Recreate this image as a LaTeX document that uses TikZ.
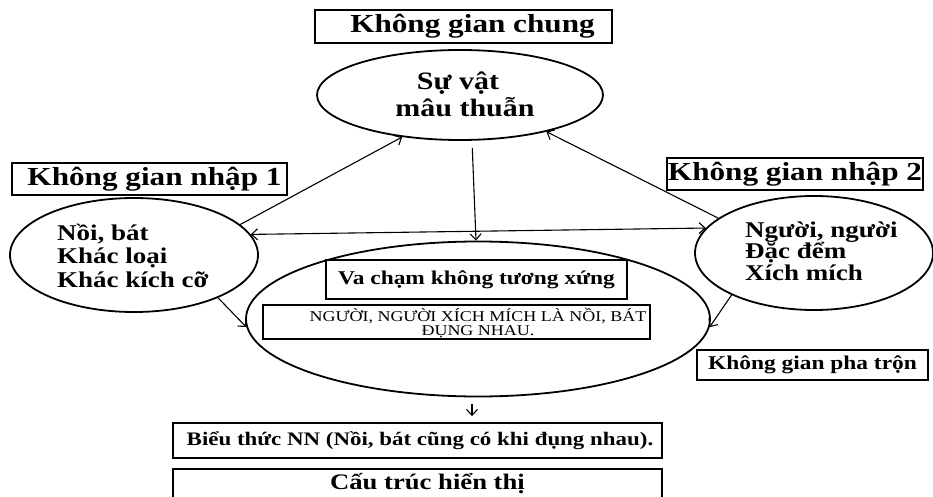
\documentclass[tikz,border=0pt]{standalone}
\usepackage{fontspec}
\setmainfont{Liberation Serif}[FakeStretch=1.2]
\usetikzlibrary{shapes.geometric,arrows.meta}
\newcommand\fszA{\fontsize{26pt}{30pt}\selectfont\bfseries}
\newcommand\fszB{\fontsize{25pt}{27pt}\selectfont\bfseries}
\newcommand\fszC{\fontsize{22.5pt}{24pt}\selectfont\bfseries}
\newcommand\fszD{\fontsize{19.5pt}{22pt}\selectfont\bfseries}
\newcommand\fszE{\fontsize{15pt}{15.5pt}\selectfont}
\tikzset{
  box/.style={draw, line width=1.8pt, inner sep=0pt},
  oval/.style={ellipse, draw, line width=1.8pt, inner sep=0pt},
  arr/.style={-{Straight Barb[length=6pt,width=11pt]}, line width=1.1pt},
  darr/.style={{Straight Barb[length=6pt,width=11pt]}-{Straight Barb[length=6pt,width=11pt]}, line width=1.1pt},
  lbl/.style={anchor=base west, inner sep=0pt},
  clbl/.style={anchor=base, inner sep=0pt}
}
\begin{document}
\begin{tikzpicture}[x=1pt,y=-1pt]
\useasboundingbox (0,0) rectangle (933,497);
% boxes
\node[box, minimum width=297pt, minimum height=33pt] (kgc) at (463.5,26.5) {\fszA\hspace*{18pt}Không gian chung};
\node[box, minimum width=275pt, minimum height=32pt] (kgn1) at (149.5,179) {\fszA\hspace*{10pt}Không gian nhập 1};
\node[box, minimum width=256pt, minimum height=32pt] (kgn2) at (795,174) {\fszA Không gian nhập 2};
\node[box, minimum width=231pt, minimum height=30pt] (kgpt) at (812.5,365) {\fszD Không gian pha trộn};
% ellipses
\node[oval, minimum width=286pt, minimum height=90pt] (top) at (460,95) {};
\node[oval, minimum width=248pt, minimum height=114pt] (left) at (134,255) {};
\node[oval, minimum width=238pt, minimum height=114pt] (right) at (814,253) {};
\node[oval, minimum width=464pt, minimum height=155pt] (cent) at (478,319) {};
% ellipse texts
\node[clbl] (t1) at (458,90) {\fszB Sự vật};
\node[clbl] (t2) at (465,117) {\fszB mâu thuẫn};
\node[lbl] (l1) at (57,240) {\fszC Nồi, bát};
\node[lbl] (l2) at (57,263) {\fszC Khác loại};
\node[lbl] (l3) at (57,287) {\fszC Khác kích cỡ};
\node[lbl] (r1) at (745,237) {\fszC Người, người};
\node[lbl] (r2) at (745,258) {\fszC Đặc đểm};
\node[lbl] (r3) at (745,280) {\fszC Xích mích};
% central contents
\node[box, minimum width=301pt, minimum height=39pt] (vacham) at (476.5,279.5) {\fszD Va chạm không tương xứng};
\node[box, minimum width=387pt, minimum height=34pt] (nbox) at (456.5,322) {};
\node[align=center, inner sep=0pt] (ntext) at (478,323) {\fszE NGƯỜI, NGƯỜI XÍCH MÍCH LÀ NỒI, BÁT\\ \fszE ĐỤNG NHAU.};
% bottom boxes
\node[box, minimum width=489pt, minimum height=35pt] (bieu) at (417.5,440.5) {\fontsize{19.1pt}{22pt}\selectfont\bfseries\hspace*{5pt}Biểu thức NN (Nồi, bát cũng có khi đụng nhau).};
\node[box, minimum width=489pt, minimum height=30pt] (cautruc) at (417.5,484) {\fontsize{22.2pt}{24pt}\selectfont\bfseries\hspace*{20pt}Cấu trúc hiển thị};
% connectors
\draw[arr] (left.16) -- (top.216);
\draw[arr] (right.160.5) -- (top.337.6);
\draw[darr] (left.10.4) -- (right.167.8);
\draw[arr, shorten <=7pt] ([xshift=12pt]top.south) -- ([xshift=-2pt]cent.north);
\draw[arr] (left.333) -- (cent.182);
\draw[arr] (right.207.6) -- (cent.358);
\draw[arr, shorten <=7pt, shorten >=6pt] ([xshift=-6pt]cent.south) -- ([xshift=54.5pt]bieu.north);
\end{tikzpicture}
\end{document}
